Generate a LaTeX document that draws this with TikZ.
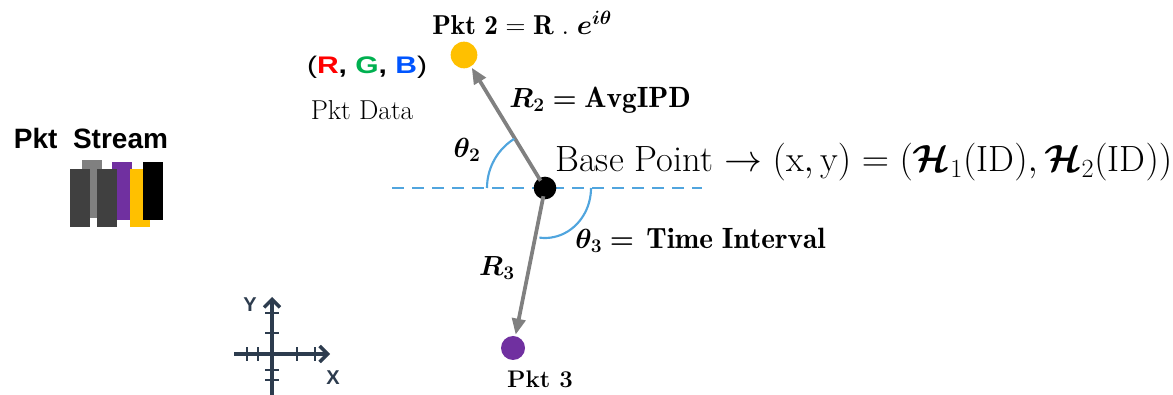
\documentclass[tikz,border=0pt]{standalone}
\usepackage{amsmath,bm}
\usepackage{fontspec}
\newfontfamily\arialf{Liberation Sans}
\newfontfamily\arialwide[FakeStretch=1.25]{Liberation Sans}
\usetikzlibrary{arrows.meta}
\definecolor{arrowgray}{RGB}{128,128,128}
\definecolor{arcblue}{RGB}{80,165,222}
\definecolor{dotyellow}{RGB}{255,192,0}
\definecolor{dotpurple}{RGB}{112,48,160}
\definecolor{bardark}{RGB}{64,64,64}
\definecolor{rgbred}{RGB}{255,0,0}
\definecolor{rgbgreen}{RGB}{0,176,80}
\definecolor{rgbblue}{RGB}{0,85,255}
\definecolor{iconnavy}{RGB}{45,60,78}
\begin{document}
\begin{tikzpicture}[x=0.75pt,y=0.75pt,
  ptr/.style={draw=arrowgray, line width=2.8pt, -{Triangle[length=12pt,width=10pt]}, shorten >=1pt},
  dot/.style={circle, inner sep=0pt, minimum size=#1},
  angarc/.style={draw=arcblue, line width=1.6pt},
  lbl/.style={inner sep=0pt, font=\fontsize{21}{24}\selectfont},
  icon/.style={draw=iconnavy, line width=2.6pt},
  tick/.style={draw=iconnavy, line width=2.2pt}
]
\useasboundingbox (0,0) rectangle (1173,395);

% packet stream
\node[inner sep=0pt, font=\arialf\bfseries\fontsize{21}{24}\selectfont] (stream) at (91,257) {Pkt\ \ Stream};
\fill[arrowgray] (82,235) rectangle (102,177);
\fill[dotpurple] (112,233) rectangle (132,175);
\fill[bardark] (70,226) rectangle (90,168);
\fill[bardark] (97,226) rectangle (117,168);
\fill[dotyellow] (130,226) rectangle (150,168);
\fill[black] (143,233) rectangle (163,175);

% RGB and pkt data
\node[inner sep=0pt, font=\arialwide\bfseries\fontsize{18}{21}\selectfont] (rgb) at (367,328)
  {\textmd{(}\textcolor{rgbred}{R}, \textcolor{rgbgreen}{G}, \textcolor{rgbblue}{B}\textmd{)}};
\node[inner sep=0pt, font=\fontsize{20.5}{23}\selectfont] (pktdata) at (362,285) {Pkt Data};

% dashed reference line
\coordinate (dl) at (392,207);
\coordinate (dr) at (702,207);
\draw[arcblue, line width=1.6pt, dash pattern=on 9pt off 6pt] (dl) -- (dr);

% points
\node[dot=20pt, fill=dotyellow] (p2) at (464,340) {};
\node[dot=18pt, fill=dotpurple] (p3) at (513,47) {};
\node[dot=17pt, fill=black] (base) at (545,207) {};

% vectors
\draw[ptr] (base.center) -- (p2);
\draw[ptr] (base.center) -- (p3);

% angle arcs
\draw[angarc] (base.center) ++(180:58) arc (180:122:58);
\draw[angarc] (base.center) ++(0:46) arc[start angle=0, end angle=-97, x radius=46, y radius=50];
\fill[black] (base.center) circle (8.5);

% labels
\node[lbl, anchor=west, font=\fontsize{20.5}{23}\selectfont] (p2lbl) at (432,372)
  {$\mathbf{Pkt\ 2 = R\;.\;}\bm{e^{i\theta}}$};
\node[lbl, anchor=west, font=\fontsize{22}{25}\selectfont] (r2lbl) at (509,295) {$\bm{R_2} \bm{=} \mathbf{AvgIPD}$};
\node[lbl] (th2) at (467,245) {$\bm{\theta_2}$};
\node[lbl, anchor=west, scale=1.14, font=\fontsize{24}{27}\selectfont] (baselbl) at (555,233)
  {Base Point $\rightarrow (\mathrm{x},\mathrm{y}) = (\bm{\mathcal{H}}_1(\mathrm{ID}), \bm{\mathcal{H}}_2(\mathrm{ID}))$};
\node[lbl, anchor=west, font=\fontsize{22}{25}\selectfont] (th3) at (575,155) {$\bm{\theta_3}\bm{=}\,\mathbf{Time\ Interval}$};
\node[lbl] (r3) at (497,127) {$\bm{R_3}$};
\node[lbl, font=\fontsize{18}{21}\selectfont] (p3lbl) at (540,16) {\bfseries Pkt 3};

% axes icon
\draw[icon, -{Straight Barb[length=6pt,width=12pt]}] (272,0) -- (272,98);
\draw[icon, -{Straight Barb[length=6pt,width=12pt]}] (234,41) -- (330,41);
\foreach \yy in {82,62,25,15} \draw[tick] (265,\yy) -- (279,\yy);
\foreach \xx in {247,258,297,315} \draw[tick] (\xx,34) -- (\xx,48);
\node[inner sep=0pt, text=iconnavy, font=\arialf\bfseries\fontsize{15}{16}\selectfont] (ylbl) at (250,90) {Y};
\node[inner sep=0pt, text=iconnavy, font=\arialf\bfseries\fontsize{15}{16}\selectfont] (xlbl) at (333,17) {X};
\end{tikzpicture}
\end{document}
